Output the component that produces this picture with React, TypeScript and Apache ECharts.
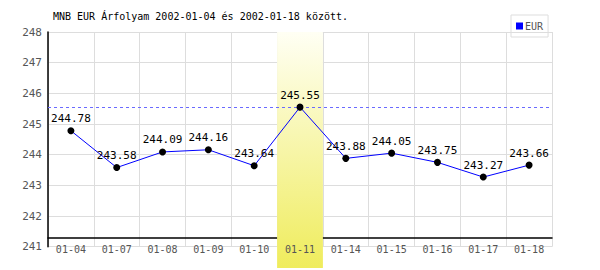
import React, { useEffect, useRef } from "react";
import * as echarts from "echarts";

const categories = ["01-04", "01-07", "01-08", "01-09", "01-10", "01-11", "01-14", "01-15", "01-16", "01-17", "01-18"];
const eurValues = [244.78, 243.58, 244.09, 244.16, 243.64, 245.55, 243.88, 244.05, 243.75, 243.27, 243.66];
const highlight = [null, null, null, null, null, 1, null, null, null, null, null];
const titleText = "MNB EUR Árfolyam 2002-01-04 és 2002-01-18 között.";
const seriesName = "EUR";

const MONO = "DejaVu Sans Mono, monospace";

export default function App() {
  const ref = useRef<HTMLDivElement>(null);
  useEffect(() => {
    if (!ref.current) return;
    const chart = echarts.init(ref.current, undefined, { renderer: "svg" });
    chart.setOption({
      animation: false,
      backgroundColor: "#ffffff",
      title: {
        text: titleText,
        left: 53,
        top: 11,
        padding: 0,
        textStyle: { fontSize: 10, fontWeight: "normal", fontFamily: MONO, color: "#000" },
      },
      legend: {
        left: 511,
        top: 15,
        width: 41,
        height: 20,
        padding: [6, 5, 6, 5],
        borderColor: "#dddddd",
        borderWidth: 1,
        itemWidth: 7,
        itemHeight: 7,
        itemGap: 2,
        textStyle: { fontSize: 10, color: "#555", fontFamily: MONO, padding: [0, 0, 0, -3] },
        data: [{ name: seriesName, icon: "rect", itemStyle: { color: "#0000ff" } }],
      },
      grid: [
        { left: 48, right: 48, top: 32, bottom: 23.3, containLabel: false },
        { left: 48, right: 48, top: 32, bottom: 2, containLabel: false },
      ],
      xAxis: [
        {
          type: "category",
          gridIndex: 0,
          data: categories,
          z: 3,
          axisLine: { show: false },
          axisTick: { show: false },
          axisLabel: { margin: -2, color: "#555", fontSize: 10, fontFamily: MONO },
          splitLine: { show: false },
        },
        {
          type: "category",
          gridIndex: 0,
          data: categories,
          position: "bottom",
          offset: -8.7,
          z: 0,
          axisLine: { show: true, lineStyle: { color: "#000", width: 1.5 } },
          axisTick: { show: false },
          axisLabel: { show: false },
          splitLine: { show: true, interval: 0, lineStyle: { color: "#dddddd", width: 1 } },
        },
        {
          type: "category",
          gridIndex: 1,
          data: categories,
          show: false,
        },
      ],
      yAxis: [
        {
          type: "value",
          gridIndex: 0,
          min: 241,
          max: 248,
          interval: 1,
          z: 0,
          axisLine: { show: true, lineStyle: { color: "#000", width: 1.5 } },
          axisTick: { show: false },
          axisLabel: { margin: 6, color: "#555", fontSize: 11, fontFamily: MONO },
          splitLine: { show: true, lineStyle: { color: "#dddddd", width: 1 } },
        },
        {
          type: "value",
          gridIndex: 1,
          min: 0,
          max: 1,
          show: false,
        },
      ],
      series: [
        {
          type: "bar",
          xAxisIndex: 2,
          yAxisIndex: 1,
          data: highlight,
          barWidth: "100%",
          z: 1,
          silent: true,
          itemStyle: {
            color: new echarts.graphic.LinearGradient(0, 0, 0, 1, [
              { offset: 0, color: "#fffff4" },
              { offset: 1, color: "#efec5c" },
            ]),
          },
        },
        {
          name: "max",
          type: "line",
          xAxisIndex: 0,
          yAxisIndex: 0,
          data: eurValues,
          z: 4,
          silent: true,
          showSymbol: false,
          symbol: "none",
          color: "#6a6aff",
          lineStyle: { opacity: 0 },
          markLine: {
            silent: true,
            symbol: "none",
            label: { show: false },
            lineStyle: { color: "#6a6aff", type: [3, 3], width: 1, opacity: 1 },
            data: [{ yAxis: Math.max(...eurValues) }],
          },
        },
        {
          name: seriesName,
          type: "line",
          xAxisIndex: 0,
          yAxisIndex: 0,
          data: eurValues,
          z: 5,
          symbol: "circle",
          symbolSize: 7,
          lineStyle: { color: "#0000ff", width: 1 },
          itemStyle: { color: "#000000" },
          label: {
            show: true,
            position: "top",
            distance: 3,
            color: "#000",
            fontSize: 11,
            fontFamily: MONO,
          },
        },
      ],
    });
    return () => chart.dispose();
  }, []);
  return <div ref={ref} style={{ position: "fixed", left: 0, top: 0, width: 600, height: 270 }} />;
}
